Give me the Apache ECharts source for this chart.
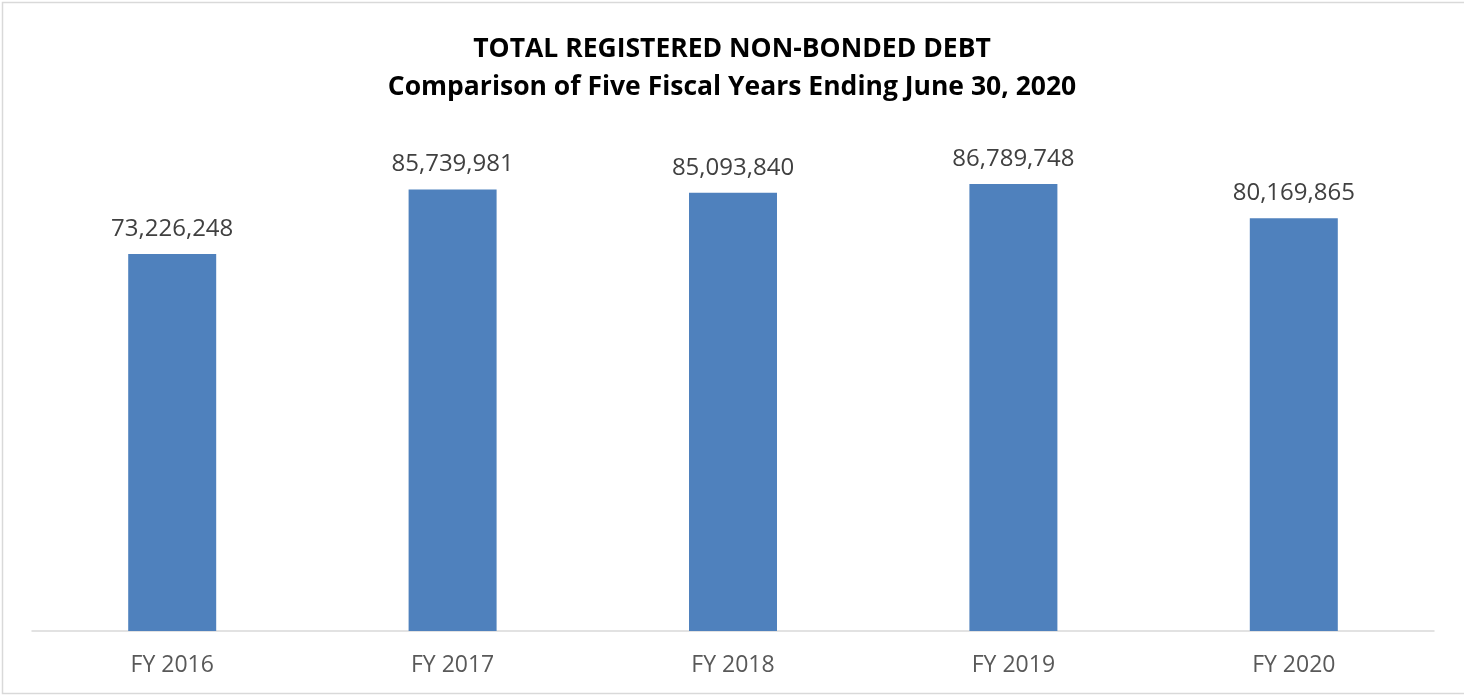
<!DOCTYPE html>
<html><head><meta charset="utf-8">
<script src="https://cdn.jsdelivr.net/npm/echarts@6/dist/echarts.min.js"></script>
<style>html,body{margin:0;padding:0;background:#fff}#c{width:1464px;height:695px}</style>
</head><body><div id="c"></div>
<script>
const categories = ['FY 2016','FY 2017','FY 2018','FY 2019','FY 2020'];
const values = [73226248, 85739981, 85093840, 86789748, 80169865];
const titleLines = ['TOTAL REGISTERED NON-BONDED DEBT','Comparison of Five Fiscal Years Ending June 30, 2020'];

const chart = echarts.init(document.getElementById('c'));
chart.setOption({
  animation: false,
  backgroundColor: '#fff',
  graphic: [{type:'rect', shape:{x:2.5,y:2.5,width:1470,height:691}, style:{fill:'none', stroke:'#d9d9d9', lineWidth:1.5}, silent:true}],
  title: {
    text: titleLines.join('\n'), left: 'center', top: 25,
    textStyle: {fontFamily:'Open Sans', fontWeight:'bold', fontSize:26.5, color:'#000', lineHeight:38}
  },
  grid: {left: 32, width: 1402, top: 116, bottom: 64, containLabel: false},
  xAxis: {
    type:'category', data: categories,
    axisLine:{lineStyle:{color:'#d9d9d9', width:1.5}}, axisTick:{show:false},
    axisLabel:{fontFamily:'Open Sans', fontSize:23, color:'#595959', margin:23}
  },
  yAxis: {type:'value', min:0, max:100000000, interval:10000000, show:false, splitLine:{show:false}},
  series: [{
    type:'bar', data: values, barWidth: 88,
    itemStyle:{color:'#4f81bd'},
    label:{show:true, position:'top', distance:13, fontFamily:'Open Sans', fontSize:24, color:'#404040',
      formatter: p => p.value.toLocaleString('en-US')}
  }]
});
</script></body></html>
